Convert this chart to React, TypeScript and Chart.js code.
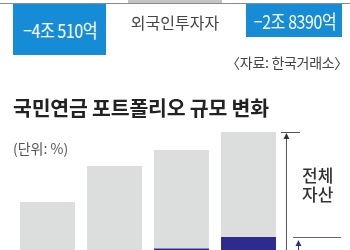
import React, { useEffect, useRef } from "react";
import { Chart, registerables } from "chart.js";

Chart.register(...registerables);

const categories = ["1", "2", "3", "4"];
const totalAssets = [48, 84, 100, 118];
const domesticShare = [0, 0, 1.5, 13];
const topLeftValue = "−4조 510억";
const topRightValue = "−2조 8390억";
const topLabel = "외국인투자자";
const sourceText = "〈자료: 한국거래소〉";
const titleText = "국민연금 포트폴리오 규모 변화";
const unitText = "(단위: %)";
const sideLabel = ["전체", "자산"];

const GRAY = "#dcdddd";
const NAVY = "#2d2b8d";
const BLUE = "#168cd6";
const FONT = "'Noto Sans CJK KR', 'Noto Sans', sans-serif";

const annotate = {
  id: "annotate",
  afterDatasetsDraw(chart: any) {
    const ctx = chart.ctx;
    const y = chart.scales.y;
    const meta = chart.getDatasetMeta(1);
    const last = meta.data[meta.data.length - 1];
    const props = last.getProps(["x", "width"], true);
    const right = props.x + props.width / 2;
    const topY = y.getPixelForValue(totalAssets[totalAssets.length - 1]);
    const navyY = y.getPixelForValue(domesticShare[domesticShare.length - 1]);
    const bottom = chart.chartArea.bottom;
    const ax = right + 10;
    ctx.save();
    ctx.strokeStyle = "#555";
    ctx.lineWidth = 1;
    ctx.beginPath();
    ctx.moveTo(ax - 5, topY + 0.5);
    ctx.lineTo(ax + 14, topY + 0.5);
    ctx.moveTo(ax + 0.5, topY + 2);
    ctx.lineTo(ax + 0.5, bottom);
    ctx.stroke();
    ctx.fillStyle = "#333";
    ctx.beginPath();
    ctx.moveTo(ax + 0.5, topY + 1);
    ctx.lineTo(ax - 2.5, topY + 7);
    ctx.lineTo(ax + 3.5, topY + 7);
    ctx.closePath();
    ctx.fill();
    ctx.strokeStyle = "#666";
    ctx.beginPath();
    ctx.moveTo(ax + 7, navyY + 0.5);
    ctx.lineTo(ax + 55, navyY + 0.5);
    ctx.stroke();
    const bx = ax + 12.5;
    ctx.strokeStyle = NAVY;
    ctx.beginPath();
    ctx.moveTo(bx, navyY + 5);
    ctx.lineTo(bx, bottom);
    ctx.stroke();
    ctx.fillStyle = NAVY;
    ctx.beginPath();
    ctx.moveTo(bx, navyY + 3);
    ctx.lineTo(bx - 3, navyY + 9);
    ctx.lineTo(bx + 3, navyY + 9);
    ctx.closePath();
    ctx.fill();
    ctx.restore();
  },
};

function BarChart() {
  const ref = useRef<HTMLCanvasElement>(null);
  useEffect(() => {
    if (!ref.current) return;
    const rest = totalAssets.map((t, i) => t - domesticShare[i]);
    const chart = new Chart(ref.current, {
      type: "bar",
      data: {
        labels: categories,
        datasets: [
          { data: domesticShare, backgroundColor: NAVY, borderWidth: 0 },
          { data: rest, backgroundColor: GRAY, borderWidth: 0 },
        ],
      },
      options: {
        responsive: false,
        animation: false,
        devicePixelRatio: 1,
        layout: { padding: { left: 14, right: 68, top: 120, bottom: 0 } },
        datasets: { bar: { categoryPercentage: 1, barPercentage: 0.82 } },
        plugins: { legend: { display: false }, tooltip: { enabled: false } },
        scales: {
          x: { display: false, stacked: true },
          y: { display: false, stacked: true, min: 0, max: 130 },
        },
      },
      plugins: [annotate],
    });
    return () => chart.destroy();
  }, []);
  return (
    <canvas
      ref={ref}
      width={350}
      height={250}
      style={{ position: "absolute", left: 0, top: 0, width: 350, height: 250 }}
    />
  );
}

const abs = (o: any): React.CSSProperties => ({
  position: "absolute",
  whiteSpace: "nowrap",
  fontFamily: FONT,
  ...o,
});

const condensed: React.CSSProperties = {
  display: "inline-block",
  transform: "scaleX(0.84)",
  fontSize: 19,
  letterSpacing: -0.5,
};

export default function App() {
  return (
    <div
      style={{
        position: "fixed",
        left: 0,
        top: 0,
        width: 350,
        height: 250,
        overflow: "hidden",
        background: "#fff",
        fontFamily: FONT,
      }}
    >
      <BarChart />
      <div style={abs({ left: 128, top: 0, width: 94, height: 3, background: "#c4c4c4" })} />
      <div style={abs({ left: 0, top: 3, width: 350, height: 1, background: "#8a8a8a" })} />
      <div
        style={abs({
          left: 13, top: 4, width: 93, height: 51, background: BLUE, color: "#fff",
          lineHeight: "51px", textAlign: "center",
        })}
      >
        <span style={condensed}>{topLeftValue}</span>
      </div>
      <div
        style={abs({
          left: 120, top: 11, width: 110, fontSize: 16, lineHeight: "22px",
          textAlign: "center", color: "#444", letterSpacing: 0,
        })}
      >
        {topLabel}
      </div>
      <div
        style={abs({
          left: 246, top: 4, width: 96, height: 33, background: BLUE, color: "#fff",
          lineHeight: "33px", textAlign: "center",
        })}
      >
        <span style={condensed}>{topRightValue}</span>
      </div>
      <div
        style={abs({
          right: 2, top: 51, fontSize: 14, lineHeight: "22px", color: "#444", letterSpacing: -0.3,
        })}
      >
        {sourceText}
      </div>
      <div
        style={abs({
          left: 13, top: 94, fontSize: 20.5, lineHeight: "26px", fontWeight: 700, color: "#222",
          letterSpacing: -0.2,
        })}
      >
        {titleText}
      </div>
      <div
        style={abs({ left: 13, top: 138, fontSize: 14, lineHeight: "20px", color: "#555" })}
      >
        {unitText}
      </div>
      <div
        style={abs({
          left: 302, top: 165, fontSize: 17, lineHeight: "19px", fontWeight: 500, color: "#333",
        })}
      >
        {sideLabel[0]}
        <br />
        {sideLabel[1]}
      </div>
    </div>
  );
}
